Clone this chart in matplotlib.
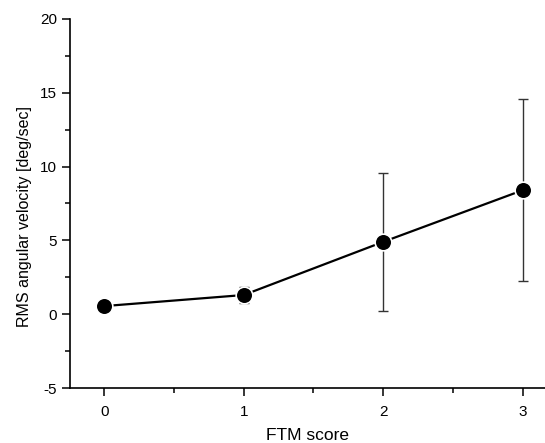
import numpy as np
import matplotlib
matplotlib.use("Agg")
import matplotlib.pyplot as plt
from matplotlib.ticker import MultipleLocator

plt.rcParams['font.family'] = ['Liberation Sans', 'DejaVu Sans']
plt.rcParams['axes.unicode_minus'] = False

# FTM score vs RMS angular velocity
ftm = [0, 1, 2, 3]
rms = [0.55, 1.3, 4.9, 8.4]
err = [0.05, 0.55, 4.65, 6.15]

fig = plt.figure(figsize=(5.45, 4.43), dpi=100)
ax = fig.add_axes([70/545, 1-388/443, 1-70/545, (388-19)/443])

ax.errorbar(ftm, rms, yerr=err, fmt='none', ecolor='#333333',
            elinewidth=1, capsize=3.5, capthick=1, zorder=1)
ax.plot(ftm, rms, color='black', lw=1.6, marker='o', markersize=12,
        markerfacecolor='black', markeredgecolor='white',
        markeredgewidth=1.2, zorder=2)

ax.set_xlim(-0.245, 3.16)
ax.set_ylim(-5, 20)
ax.xaxis.set_major_locator(MultipleLocator(1))
ax.xaxis.set_minor_locator(MultipleLocator(0.5))
ax.yaxis.set_major_locator(MultipleLocator(5))
ax.yaxis.set_minor_locator(MultipleLocator(2.5))

for s in ['top', 'right']:
    ax.spines[s].set_visible(False)
for s in ['left', 'bottom']:
    ax.spines[s].set_linewidth(1.2)

ax.tick_params(which='major', direction='out', length=6, width=1.1,
               labelsize=11)
ax.tick_params(axis='x', which='major', pad=6)
ax.tick_params(which='minor', direction='out', length=3.5, width=1.1)

ax.set_xlabel('FTM score', fontsize=12.5, labelpad=7)
ax.set_ylabel('RMS angular velocity [deg/sec]', fontsize=11.5)
ax.yaxis.set_label_coords(-0.08, 0.465)

fig.savefig('out.png', dpi=100)
